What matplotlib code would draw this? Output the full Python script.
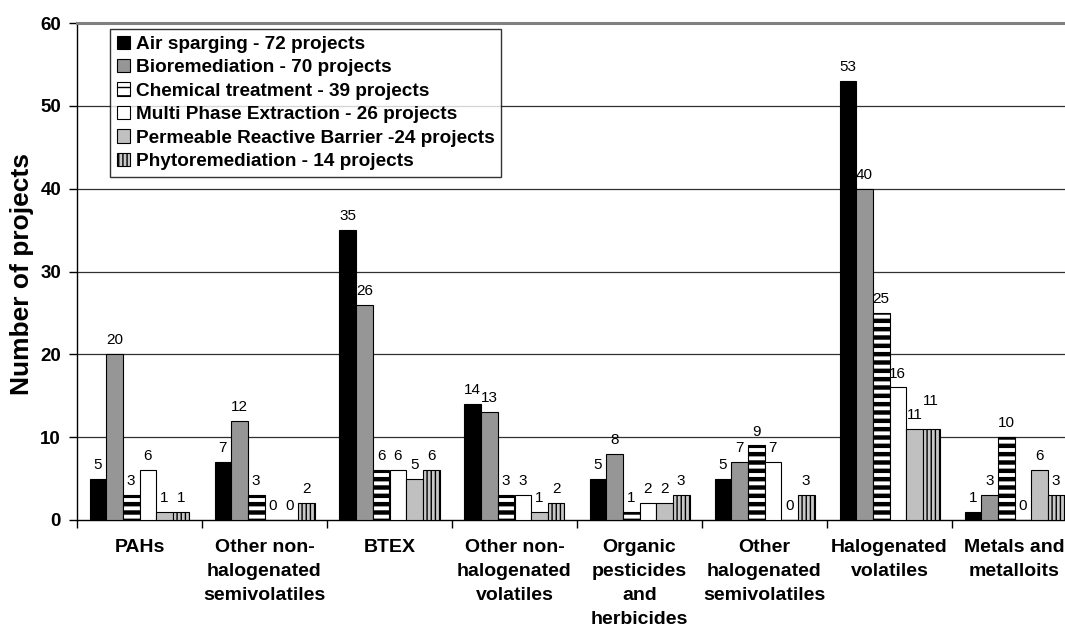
import matplotlib
matplotlib.use("Agg")
import matplotlib.pyplot as plt
import numpy as np

plt.rcParams["font.family"] = ["Liberation Sans", "DejaVu Sans"]

categories = [
    "PAHs",
    "Other non-\nhalogenated\nsemivolatiles",
    "BTEX",
    "Other non-\nhalogenated\nvolatiles",
    "Organic\npesticides\nand\nherbicides",
    "Other\nhalogenated\nsemivolatiles",
    "Halogenated\nvolatiles",
    "Metals and\nmetalloits",
]

series_names = [
    "Air sparging - 72 projects",
    "Bioremediation - 70 projects",
    "Chemical treatment - 39 projects",
    "Multi Phase Extraction - 26 projects",
    "Permeable Reactive Barrier -24 projects",
    "Phytoremediation - 14 projects",
]

air_sparging = [5, 7, 35, 14, 5, 5, 53, 1]
bioremediation = [20, 12, 26, 13, 8, 7, 40, 3]
chemical_treatment = [3, 3, 6, 3, 1, 9, 25, 10]
multi_phase_extraction = [6, 0, 6, 3, 2, 7, 16, 0]
permeable_reactive_barrier = [1, 0, 5, 1, 2, 0, 11, 6]
phytoremediation = [1, 2, 6, 2, 3, 3, 11, 3]

series_values = [
    air_sparging,
    bioremediation,
    chemical_treatment,
    multi_phase_extraction,
    permeable_reactive_barrier,
    phytoremediation,
]

y_ticks = [0, 10, 20, 30, 40, 50, 60]

# fill colour, hatch pattern, hatch line width per series
styles = [
    ("#000000", None, 1.0),
    ("#969696", None, 1.0),
    ("#ffffff", "--", 3.2),
    ("#ffffff", None, 1.0),
    ("#c0c0c0", None, 1.0),
    ("#c8c8c8", "||||", 1.0),
]

W, H = 1065, 626
fig = plt.figure(figsize=(W / 100, H / 100), dpi=100)
ax = fig.add_axes([77 / W, 1 - 520 / H, 1000 / W, 497 / H])

n_cat = len(categories)
n_ser = len(series_values)
bar_w = 1 / 7.5
x = np.arange(n_cat) + 0.5

for j, (vals, name, (fc, hatch, hlw)) in enumerate(zip(series_values, series_names, styles)):
    with plt.rc_context({"hatch.linewidth": hlw, "hatch.color": "black"}):
        bars = ax.bar(
            x + (j - (n_ser - 1) / 2) * bar_w,
            vals,
            width=bar_w,
            color=fc,
            edgecolor="black",
            linewidth=0.8,
            hatch=hatch,
            label=name,
            zorder=3,
        )
        for b in bars:
            if hasattr(b, "set_hatch_linewidth"):
                b.set_hatch_linewidth(hlw)
    for k, (b, v) in enumerate(zip(bars, vals)):
        # the last of the two equal neighbours on "Halogenated volatiles" sits higher
        extra = 10 if (j == 5 and k == 6) else 0
        ax.annotate(
            str(v),
            (b.get_x() + b.get_width() / 2, v),
            xytext=(0, 5 + extra),
            textcoords="offset points",
            ha="center",
            va="bottom",
            fontsize=11,
            zorder=4,
        )

ax.set_xlim(0, n_cat)
ax.set_ylim(0, 60)
ax.set_yticks(y_ticks)
ax.set_yticklabels([str(t) for t in y_ticks], fontsize=13.5, fontweight="bold")
ax.tick_params(axis="y", direction="out", length=6, width=1, pad=5.5, color="black")

ax.set_xticks(x)
ax.set_xticklabels(categories, fontsize=14, fontweight="bold", linespacing=1.52)
ax.set_xticks(np.arange(n_cat + 1), minor=True)
ax.tick_params(axis="x", which="major", length=0, pad=14)
ax.tick_params(axis="x", which="minor", direction="out", length=6, width=1, color="black")

for t in y_ticks[1:-1]:
    ax.axhline(t, color="#303030", linewidth=0.9, zorder=1)

ax.spines["left"].set_color("black")
ax.spines["left"].set_linewidth(1)
ax.spines["bottom"].set_color("black")
ax.spines["bottom"].set_linewidth(1)
ax.spines["top"].set_color("#808080")
ax.spines["top"].set_linewidth(2.2)
ax.spines["right"].set_visible(False)

fig.text(22 / W, 1 - 274 / H, "Number of projects", rotation=90,
         ha="center", va="center", fontsize=19, fontweight="bold")

leg = ax.legend(
    loc="upper left",
    bbox_to_anchor=(110 / W, 1 - 29 / H),
    bbox_transform=fig.transFigure,
    borderaxespad=0,
    frameon=True,
    fancybox=False,
    edgecolor="black",
    handlelength=0.7,
    handleheight=0.7,
    handletextpad=0.3,
    labelspacing=0.32,
    borderpad=0.35,
    prop={"size": 13.7, "weight": "bold"},
)
leg.get_frame().set_linewidth(1.0)
leg.set_zorder(5)

fig.savefig("out.png", dpi=100)
